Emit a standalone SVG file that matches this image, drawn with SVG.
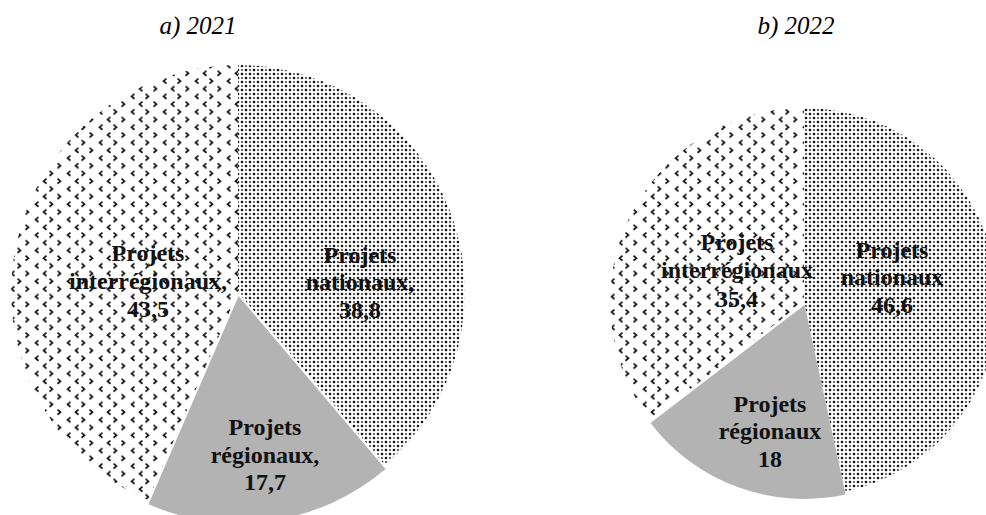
<svg xmlns="http://www.w3.org/2000/svg" width="986" height="515" viewBox="0 0 986 515">
  <style>
    .title { font-family: "Liberation Serif", "Times New Roman", serif; font-style: italic; font-size: 25px; fill: #000; text-anchor: middle; }
    .lbl { font-family: "Liberation Serif", "Times New Roman", serif; font-weight: bold; font-size: 24px; fill: #111; text-anchor: middle; }
    .reg { fill: #b3b3b3; }
    .nat { fill: url(#dots); }
    .inter { fill: url(#chev); }
  </style>
  <defs>
    <pattern id="dots" width="8" height="8" patternUnits="userSpaceOnUse">
      <rect width="8" height="8" fill="#fff"/>
      <circle cx="2" cy="2" r="1.3" fill="#111"/>
      <circle cx="6" cy="6" r="1.3" fill="#111"/>
      <circle cx="6" cy="2" r="1" fill="#333"/>
      <circle cx="2" cy="6" r="1" fill="#333"/>
    </pattern>
    <pattern id="chev" width="32" height="15.4" patternUnits="userSpaceOnUse">
      <rect width="32" height="15.4" fill="#fff"/>
      <path d="M6.5,1.5 L3.5,4 L6.5,6.5 M17.5,1.5 L20.5,4 L17.5,6.5 M14.5,9.2 L11.5,11.7 L14.5,14.2 M25.5,9.2 L28.5,11.7 L25.5,14.2" stroke="#111" stroke-width="1.7" fill="none"/>
    </pattern>
  </defs>

  <rect width="986" height="515" fill="#fff"/>

  <text class="title" x="198" y="34">a) 2021</text>
  <text class="title" x="796" y="34">b) 2022</text>

  <!-- Left pie: 2021 -->
  <g id="pie-2021">
    <g id="n2021-nationaux">
      <path class="nat" d="M238,292 L238,65 A227,227 0 0,1 384.9,465 Z"/>
      <text class="lbl" x="360" y="263">Projets</text>
      <text class="lbl" x="360" y="290">nationaux,</text>
      <text class="lbl" x="360" y="318">38,8</text>
    </g>
    <g id="n2021-interregionaux">
      <path class="inter" d="M238,292 L147.9,500.3 A227,227 0 0,1 238,65 Z"/>
      <text class="lbl" x="148" y="261">Projets</text>
      <text class="lbl" x="148" y="289">interrégionaux,</text>
      <text class="lbl" x="148" y="317">43,5</text>
    </g>
    <g id="n2021-regionaux">
      <path class="reg" d="M238.6,296 L385.5,469 A227,227 0 0,1 148.5,504.3 Z"/>
      <text class="lbl" x="265" y="435">Projets</text>
      <text class="lbl" x="265" y="463">régionaux,</text>
      <text class="lbl" x="265" y="490">17,7</text>
    </g>
  </g>

  <!-- Right pie: 2022 -->
  <g id="pie-2022">
    <g id="n2022-nationaux">
      <path class="nat" d="M804,302 L804,108 A194,194 0 0,1 845.1,491.6 Z"/>
      <text class="lbl" x="892" y="258">Projets</text>
      <text class="lbl" x="892" y="285">nationaux</text>
      <text class="lbl" x="892" y="313">46,6</text>
    </g>
    <g id="n2022-interregionaux">
      <path class="inter" d="M804,302 L650,419.9 A194,194 0 0,1 804,108 Z"/>
      <text class="lbl" x="737" y="250">Projets</text>
      <text class="lbl" x="737" y="278">interrégionaux</text>
      <text class="lbl" x="737" y="307">35,4</text>
    </g>
    <g id="n2022-regionaux">
      <path class="reg" d="M804.5,305 L845.6,494.6 A194,194 0 0,1 650.5,422.9 Z"/>
      <text class="lbl" x="770" y="412">Projets</text>
      <text class="lbl" x="770" y="439">régionaux</text>
      <text class="lbl" x="770" y="467">18</text>
    </g>
  </g>
</svg>
